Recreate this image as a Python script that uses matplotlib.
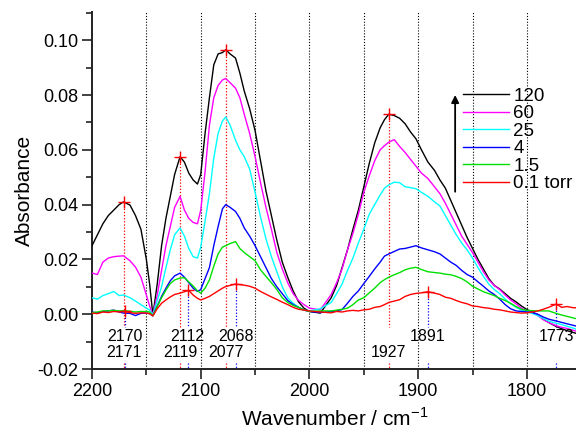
import matplotlib
matplotlib.use("Agg")
import matplotlib.pyplot as plt
from matplotlib.ticker import MultipleLocator, FormatStrFormatter

# wavenumber grid (cm-1) shared by all spectra
wavenumber = [2200, 2195, 2190, 2185, 2180, 2175, 2171, 2165, 2160, 2155,
              2150, 2147, 2144, 2140, 2136, 2132, 2128, 2124, 2119, 2115,
              2111, 2107, 2103, 2100, 2096, 2092, 2088, 2084, 2080, 2077,
              2073, 2068, 2064, 2060, 2055, 2050, 2045, 2040, 2035, 2030,
              2025, 2020, 2015, 2010, 2005, 2000, 1990, 1980, 1975, 1970,
              1965, 1960, 1955, 1950, 1945, 1940, 1935, 1931, 1927, 1922,
              1917, 1912, 1907, 1902, 1897, 1891, 1885, 1880, 1875, 1870,
              1865, 1860, 1855, 1850, 1845, 1840, 1835, 1830, 1825, 1820,
              1815, 1810, 1805, 1800, 1795, 1790, 1785, 1780, 1773, 1768,
              1763, 1758, 1753]

abs_120 = [0.025, 0.029, 0.033, 0.036, 0.038, 0.040, 0.041, 0.0398, 0.036, 0.031,
           0.020, 0.011, -0.0003, 0.011, 0.025, 0.035, 0.043, 0.051, 0.0575, 0.0555,
           0.0515, 0.049, 0.0475, 0.051, 0.066, 0.079, 0.091, 0.095, 0.0955, 0.0965,
           0.095, 0.0935, 0.088, 0.0815, 0.075, 0.067, 0.056, 0.045, 0.036, 0.027,
           0.019, 0.0135, 0.0085, 0.0045, 0.0022, 0.001, 0.0004, 0.006, 0.0105, 0.017,
           0.0235, 0.031, 0.038, 0.0465, 0.055, 0.0625, 0.068, 0.071, 0.073, 0.0725,
           0.0715, 0.0695, 0.0665, 0.064, 0.060, 0.0555, 0.0525, 0.049, 0.046, 0.0415,
           0.037, 0.0325, 0.028, 0.024, 0.020, 0.0165, 0.013, 0.0105, 0.0092, 0.0075,
           0.0058, 0.0045, 0.003, 0.0017, 0.0008, -0.0002, -0.0018, -0.003, -0.0045, -0.0053,
           -0.006, -0.0066, -0.0072]

abs_60 = [0.015, 0.0145, 0.019, 0.0205, 0.021, 0.0212, 0.0213, 0.0195, 0.0172, 0.0135,
          0.007, 0.003, -0.0003, 0.007, 0.016, 0.025, 0.032, 0.039, 0.043, 0.038,
          0.035, 0.0335, 0.033, 0.038, 0.052, 0.069, 0.079, 0.0835, 0.0855, 0.086,
          0.0845, 0.0825, 0.079, 0.073, 0.066, 0.0575, 0.048, 0.039, 0.031, 0.0225,
          0.0165, 0.0115, 0.0075, 0.005, 0.0035, 0.0022, 0.0016, 0.0072, 0.0115, 0.0165,
          0.0235, 0.0295, 0.0365, 0.0445, 0.0505, 0.056, 0.060, 0.0615, 0.0628, 0.0637,
          0.0612, 0.059, 0.0565, 0.054, 0.0515, 0.0495, 0.0465, 0.044, 0.0405, 0.0365,
          0.0325, 0.0285, 0.0255, 0.0225, 0.019, 0.0155, 0.0125, 0.0105, 0.009, 0.007,
          0.0052, 0.0038, 0.0022, 0.0012, 0.0005, -0.0005, -0.002, -0.003, -0.0042, -0.0048,
          -0.0052, -0.0058, -0.0064]

abs_25 = [0.006, 0.0055, 0.0068, 0.0075, 0.0083, 0.0068, 0.007, 0.006, 0.0048, 0.0035,
          0.0022, 0.0015, -0.0003, 0.005, 0.010, 0.017, 0.0235, 0.029, 0.0315, 0.0285,
          0.024, 0.021, 0.0205, 0.0245, 0.034, 0.044, 0.057, 0.066, 0.0705, 0.072,
          0.069, 0.0635, 0.060, 0.0575, 0.053, 0.0445, 0.0355, 0.0275, 0.021, 0.0155,
          0.010, 0.006, 0.004, 0.0025, 0.0015, 0.0012, 0.002, 0.0043, 0.0075, 0.011,
          0.016, 0.0205, 0.026, 0.031, 0.0365, 0.040, 0.0435, 0.046, 0.0472, 0.0482,
          0.048, 0.0465, 0.0462, 0.0458, 0.0445, 0.043, 0.041, 0.0395, 0.036, 0.0325,
          0.029, 0.026, 0.0235, 0.0205, 0.017, 0.0138, 0.011, 0.009, 0.0075, 0.0055,
          0.0038, 0.0025, 0.0015, 0.0008, 0.0003, -0.0005, -0.0015, -0.0025, -0.0033, -0.0038,
          -0.0044, -0.005, -0.0057]

abs_4 = [0.0008, 0.0005, 0.001, 0.0012, 0.0015, 0.0008, 0.0004, 0.0003, -0.0005, 0.0003,
         0.0004, 0.0002, -0.0006, 0.003, 0.0065, 0.0095, 0.0122, 0.014, 0.015, 0.0135,
         0.0115, 0.0095, 0.0083, 0.009, 0.013, 0.017, 0.025, 0.032, 0.0385, 0.040,
         0.039, 0.0375, 0.035, 0.0315, 0.0285, 0.025, 0.021, 0.017, 0.013, 0.010,
         0.0075, 0.005, 0.0035, 0.0025, 0.0015, 0.001, 0.0006, 0.001, 0.0012, 0.0017,
         0.004, 0.0065, 0.0085, 0.0112, 0.0138, 0.0165, 0.019, 0.0212, 0.022, 0.0229,
         0.0238, 0.024, 0.0245, 0.025, 0.0242, 0.0235, 0.0228, 0.022, 0.0205, 0.019,
         0.0178, 0.016, 0.0145, 0.0135, 0.0118, 0.0102, 0.0085, 0.0072, 0.0055, 0.0035,
         0.002, 0.0012, 0.001, 0.0008, 0.0006, 0.0, -0.001, -0.0018, -0.0025, -0.003,
         -0.0035, -0.004, -0.0045]

abs_1p5 = [0.0006, 0.0008, 0.0012, 0.0012, 0.0014, 0.0012, 0.0013, 0.0011, 0.0008, 0.001,
           0.001, 0.0008, -0.0006, 0.0028, 0.006, 0.0088, 0.0112, 0.0125, 0.0132, 0.0133,
           0.0118, 0.0103, 0.0085, 0.0077, 0.0095, 0.0125, 0.0175, 0.022, 0.0245, 0.025,
           0.0258, 0.0265, 0.024, 0.0225, 0.021, 0.0195, 0.0162, 0.0138, 0.0115, 0.009,
           0.006, 0.0043, 0.0032, 0.0025, 0.0015, 0.001, 0.0012, 0.0012, 0.0015, 0.0018,
           0.0022, 0.0035, 0.0052, 0.006, 0.0078, 0.0095, 0.0115, 0.0126, 0.0135, 0.0144,
           0.0152, 0.0162, 0.0168, 0.0171, 0.0163, 0.0155, 0.0152, 0.015, 0.0146, 0.0144,
           0.0138, 0.013, 0.0118, 0.0102, 0.0092, 0.0082, 0.0075, 0.0068, 0.0058, 0.005,
           0.004, 0.0028, 0.0018, 0.0014, 0.0013, 0.0012, 0.0012, 0.0012, 0.0003, -0.0003,
           -0.0008, -0.0013, -0.0018]

abs_0p1 = [0.0004, 0.0002, 0.0008, 0.0006, 0.001, 0.0008, 0.001, 0.0006, 0.0003, 0.0005,
           0.0004, 0.0002, -0.0006, 0.002, 0.004, 0.0052, 0.0063, 0.0072, 0.0077, 0.0082,
           0.0087, 0.007, 0.0058, 0.0052, 0.0058, 0.0065, 0.0075, 0.0085, 0.0095, 0.0101,
           0.0105, 0.011, 0.0108, 0.0106, 0.0102, 0.0095, 0.0083, 0.0073, 0.0063, 0.0054,
           0.0044, 0.0035, 0.0025, 0.0018, 0.0015, 0.0012, 0.0008, 0.0005, 0.001, 0.0008,
           0.0012, 0.0014, 0.0012, 0.0016, 0.0018, 0.0025, 0.0028, 0.0035, 0.0043, 0.0048,
           0.0053, 0.0065, 0.0072, 0.0076, 0.0078, 0.0082, 0.0077, 0.0072, 0.0062, 0.0058,
           0.005, 0.0043, 0.0038, 0.003, 0.0028, 0.0024, 0.0022, 0.0018, 0.0016, 0.0012,
           0.0008, 0.0006, 0.0004, 0.0005, 0.0008, 0.0012, 0.0018, 0.0025, 0.0037, 0.0025,
           0.0028, 0.0024, 0.0023]

labels = ["120", "60", "25", "4", "1.5", "0.1 torr"]
colors = ["black", "#ff00ff", "#00ffff", "#0000ff", "#00e000", "#ff0000"]

# band maxima at the highest (120 torr) and lowest (0.1 torr) pressure
peaks_high = [2171, 2119, 2077, 1927]
peaks_high_abs = [0.041, 0.0575, 0.0965, 0.073]
peaks_low = [2170, 2112, 2068, 1891, 1773]
peaks_low_abs = [0.001, 0.0087, 0.011, 0.0082, 0.0037]

plt.rcParams['font.family'] = ['Liberation Sans', 'DejaVu Sans']
plt.rcParams['mathtext.fontset'] = 'custom'
plt.rcParams['mathtext.rm'] = 'Liberation Sans'

fig = plt.figure(figsize=(5.76, 4.30), dpi=100)
ax = fig.add_axes([92 / 576, 61 / 430, 486 / 576, 357 / 430])

ymin, ymax = -0.02, 0.1103
ax.set_xlim(2200, 1753)
ax.set_ylim(ymin, ymax)

for x in range(2150, 1799, -50):
    ax.plot([x, x], [ymin, ymax], color='black', lw=0.8,
            linestyle=(0, (1, 1.6)), zorder=1)

spectra = [abs_120, abs_60, abs_25, abs_4, abs_1p5, abs_0p1]
lines = []
for spec, lab, col in zip(spectra, labels, colors):
    ln, = ax.plot(wavenumber, spec, color=col, lw=1.0, label=lab, zorder=3)
    lines.append(ln)

# drop lines from the band maxima, broken where the labels sit
gap_top, gap_bot = -0.0048, -0.0178
for x, y in zip(peaks_high, peaks_high_abs):
    ax.plot([x, x], [y, gap_top], color='red', lw=0.9, linestyle=(0, (1, 1.5)), zorder=2)
    ax.plot([x, x], [gap_bot, ymin], color='red', lw=0.9, linestyle=(0, (1, 1.5)), zorder=2)
for x, y in zip(peaks_low, peaks_low_abs):
    ax.plot([x, x], [y, gap_top], color='blue', lw=0.9, linestyle=(0, (1, 1.5)), zorder=2)
    ax.plot([x, x], [gap_bot, ymin], color='blue', lw=0.9, linestyle=(0, (1, 1.5)), zorder=2)

ax.plot(peaks_high, peaks_high_abs, '+', color='red', ms=9, mew=1.0, zorder=4)
ax.plot(peaks_low, peaks_low_abs, '+', color='red', ms=9, mew=1.0, zorder=4)

for x in peaks_low:
    ax.text(x, -0.0080, str(x), ha='center', va='center', fontsize=11.5, zorder=5)
for x in peaks_high:
    ax.text(x, -0.0140, str(x), ha='center', va='center', fontsize=11.5, zorder=5)

# pressure arrow next to the legend
ax.annotate('', xy=(1866, 0.0800), xytext=(1866, 0.0447),
            arrowprops=dict(arrowstyle='-|>', color='black', lw=1.3,
                            mutation_scale=11, shrinkA=0, shrinkB=0))

leg = ax.legend(handles=lines, loc='upper left', bbox_to_anchor=(0.763, 0.788),
                frameon=False, fontsize=13.5, handlelength=2.45,
                handletextpad=0.25, labelspacing=0.02, borderpad=0,
                borderaxespad=0)

ax.spines['top'].set_visible(False)
ax.spines['right'].set_visible(False)
for s in ('left', 'bottom'):
    ax.spines[s].set_linewidth(1.4)
    ax.spines[s].set_color('#222222')

ax.xaxis.set_major_locator(MultipleLocator(100))
ax.xaxis.set_minor_locator(MultipleLocator(50))
ax.yaxis.set_major_locator(MultipleLocator(0.02))
ax.yaxis.set_minor_locator(MultipleLocator(0.01))
ax.yaxis.set_major_formatter(FormatStrFormatter('%.2f'))
ax.tick_params(which='major', direction='out', length=7, width=1.2,
               color='#222222', labelsize=13, pad=3)
ax.tick_params(which='minor', direction='out', length=4, width=1.2, color='#222222')

ax.set_xlabel('Wavenumber / cm$^{-1}$', fontsize=15, labelpad=5)
ax.set_ylabel('Absorbance', fontsize=15, labelpad=2)

fig.savefig('out.png', dpi=100)
